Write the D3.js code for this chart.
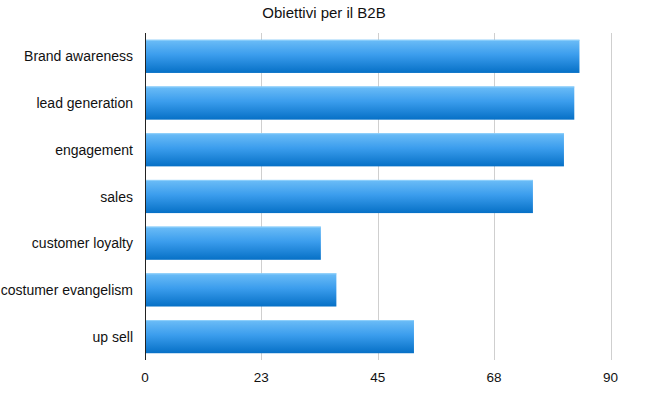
<!DOCTYPE html>
<html>
<head>
<meta charset="utf-8">
<script src="https://cdn.jsdelivr.net/npm/d3@7"></script>
<style>
  body { margin: 0; background: #fff; }
  text { font-family: "Liberation Sans", Arial, sans-serif; fill: #111; }
</style>
</head>
<body>
<div id="chart"></div>
<script>
var categories = ["Brand awareness", "lead generation", "engagement", "sales",
                  "customer loyalty", "costumer evangelism", "up sell"];
var values = [84, 83, 81, 75, 34, 37, 52];
var tickValues = [0, 22.5, 45, 67.5, 90];
var title = "Obiettivi per il B2B";

var w = 652;
var h = 395;
var margin = {top: 33, right: 41.5, bottom: 35, left: 145};

var svg = d3.select("#chart")
            .append("svg")
            .attr("width", w)
            .attr("height", h);

var defs = svg.append("defs");
var grad = defs.append("linearGradient")
  .attr("id", "barGrad")
  .attr("x1", 0).attr("y1", 0)
  .attr("x2", 0).attr("y2", 1);
grad.append("stop").attr("offset", "0%").attr("stop-color", "#6cbdf7");
grad.append("stop").attr("offset", "45%").attr("stop-color", "#3b9ded");
grad.append("stop").attr("offset", "100%").attr("stop-color", "#0670c6");

var x = d3.scaleLinear()
  .domain([0, 90])
  .range([margin.left, w - margin.right]);

var y = d3.scaleBand()
  .domain(categories)
  .range([margin.top, h - margin.bottom])
  .paddingInner(0.29)
  .paddingOuter(0.145);

// grid lines
svg.selectAll(".grid")
   .data(tickValues.slice(1))
   .enter()
   .append("line")
   .attr("class", "grid")
   .attr("x1", function(d) { return Math.round(x(d)) + 0.5; })
   .attr("x2", function(d) { return Math.round(x(d)) + 0.5; })
   .attr("y1", margin.top)
   .attr("y2", h - margin.bottom)
   .attr("stroke", "#cfcfcf")
   .attr("stroke-width", 1);

// bars
svg.selectAll(".bar")
   .data(categories)
   .enter()
   .append("rect")
   .attr("class", "bar")
   .attr("x", x(0) + 1)
   .attr("y", function(d) { return y(d); })
   .attr("width", function(d, i) { return x(values[i]) - x(0) - 1; })
   .attr("height", y.bandwidth())
   .attr("fill", "url(#barGrad)");

// thin light top edge on each bar
svg.selectAll(".edge")
   .data(categories)
   .enter()
   .append("line")
   .attr("class", "edge")
   .attr("x1", x(0) + 1)
   .attr("x2", function(d, i) { return x(values[i]); })
   .attr("y1", function(d) { return y(d) + 0.5; })
   .attr("y2", function(d) { return y(d) + 0.5; })
   .attr("stroke", "#8fd0fb")
   .attr("stroke-width", 1);

// axis line at zero
svg.append("line")
   .attr("x1", x(0) + 0.5).attr("x2", x(0) + 0.5)
   .attr("y1", margin.top)
   .attr("y2", h - margin.bottom)
   .attr("stroke", "#222")
   .attr("stroke-width", 1);

// x tick labels
svg.selectAll(".xlabel")
   .data(tickValues)
   .enter()
   .append("text")
   .attr("class", "xlabel")
   .attr("x", function(d) { return x(d); })
   .attr("y", 382)
   .attr("text-anchor", "middle")
   .style("font-size", "13.5px")
   .text(function(d) { return Math.round(d); });

// category labels
svg.selectAll(".ylabel")
   .data(categories)
   .enter()
   .append("text")
   .attr("class", "ylabel")
   .attr("x", 133)
   .attr("y", function(d) { return y(d) + y.bandwidth() / 2 + 5; })
   .attr("text-anchor", "end")
   .style("font-size", "14px")
   .text(function(d) { return d; });

// title
svg.append("text")
   .attr("x", 324)
   .attr("y", 18)
   .attr("text-anchor", "middle")
   .style("font-size", "15px")
   .text(title);
</script>
</body>
</html>
